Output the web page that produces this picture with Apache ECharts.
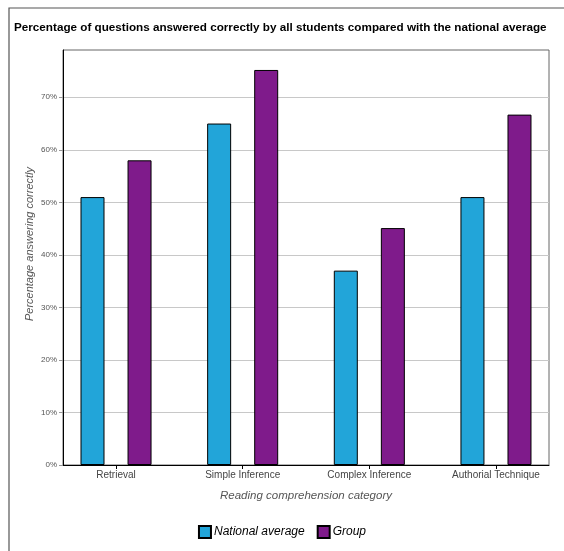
<!DOCTYPE html>
<html><head><meta charset="utf-8">
<script src="https://cdn.jsdelivr.net/npm/echarts@6/dist/echarts.min.js"></script>
<style>html,body{margin:0;padding:0;background:#fff}#c{width:564px;height:551px}</style>
</head><body><div id="c"></div>
<script>
const categories = ['Retrieval', 'Simple Inference', 'Complex Inference', 'Authorial Technique'];
const nationalAverage = [51, 65, 37, 51];
const groupValues = [58, 75.2, 45.1, 66.7];
const yTicks = [0, 10, 20, 30, 40, 50, 60, 70];

const chart = echarts.init(document.getElementById('c'), null, {renderer: 'canvas'});
const font = 'Liberation Sans, Arial, sans-serif';
chart.setOption({
  animation: false,
  backgroundColor: '#fff',
  title: {
    text: 'Percentage of questions answered correctly by all students compared with the national average',
    left: 9, top: 17,
    textStyle: {fontFamily: font, fontSize: 11.7, fontWeight: 'bold', color: '#000'}
  },
  graphic: [
    {type: 'rect', shape: {x: 9, y: 8, width: 700, height: 700}, style: {fill: 'none', stroke: '#555', lineWidth: 1.2}, silent: true, z: 0},
    {type: 'text', x: 30, y: 244, rotation: Math.PI / 2,
     style: {text: 'Percentage answering correctly', fontFamily: font, fontStyle: 'italic', fontSize: 11, fill: '#555', align: 'center', verticalAlign: 'middle'}}
  ],
  legend: {
    data: ['National average', 'Group'],
    bottom: 7, left: 'center',
    icon: 'rect', itemWidth: 12, itemHeight: 12, itemGap: 12,
    textStyle: {fontFamily: font, fontStyle: 'italic', fontSize: 12, color: '#000', padding: [0, 0, 0, -2]}
  },
  grid: [
    {left: 63, right: 15, top: 50, bottom: 86, show: true, borderColor: '#666', borderWidth: 1, backgroundColor: 'transparent'},
    {left: 52.7, right: 4.7, top: 50, bottom: 86}
  ],
  xAxis: [
    {gridIndex: 0, type: 'value', min: 0, max: 1, show: true,
     axisLine: {show: true, lineStyle: {color: '#000', width: 1}}, axisTick: {show: false}, axisLabel: {show: false}, splitLine: {show: false}},
    {gridIndex: 1, type: 'category', data: categories,
     name: 'Reading comprehension category', nameLocation: 'middle', nameGap: 25,
     nameTextStyle: {fontFamily: font, fontStyle: 'italic', fontSize: 11.5, color: '#555'},
     axisLine: {show: false}, axisTick: {show: true, alignWithLabel: true, length: 4, lineStyle: {color: '#000'}},
     axisLabel: {fontFamily: font, fontSize: 10, color: '#444', margin: 5}}
  ],
  yAxis: [
    {gridIndex: 0, type: 'value', min: 0, max: 79, interval: 10,
     axisLine: {show: true, lineStyle: {color: '#000', width: 1}},
     axisTick: {show: true, length: 4, customValues: yTicks, lineStyle: {color: '#999'}},
     axisLabel: {fontFamily: font, fontSize: 8, color: '#555', margin: 6, customValues: yTicks,
       formatter: v => yTicks.indexOf(v) >= 0 ? v + '%' : ''},
     splitLine: {show: true, lineStyle: {color: '#c8c8c8', width: 1}}},
    {gridIndex: 1, type: 'value', min: 0, max: 79, show: false, splitLine: {show: false}}
  ],
  series: [
    {name: 'National average', type: 'bar', xAxisIndex: 1, yAxisIndex: 1, data: nationalAverage,
     barWidth: 24, barGap: '96%',
     itemStyle: {color: '#22a5d9', borderColor: '#000', borderWidth: 1}},
    {name: 'Group', type: 'bar', xAxisIndex: 1, yAxisIndex: 1, data: groupValues,
     barWidth: 24,
     itemStyle: {color: '#7f1b8b', borderColor: '#000', borderWidth: 1}}
  ]
});
</script></body></html>
